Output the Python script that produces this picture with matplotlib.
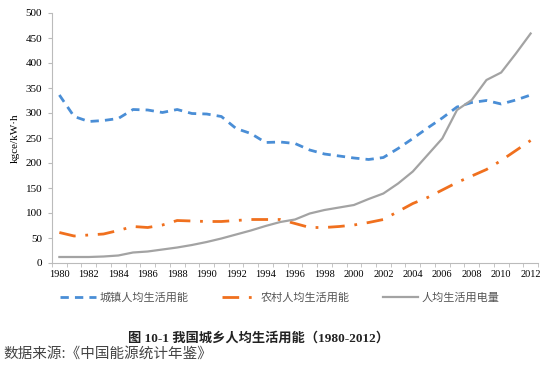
import numpy as np
import matplotlib
matplotlib.use("Agg")
import matplotlib.pyplot as plt
from matplotlib.ticker import FixedLocator

plt.rcParams['font.family'] = ['Liberation Serif', 'Noto Sans CJK SC']

years = list(range(1980, 2013))
urban = [336, 293, 283, 285, 289, 307, 306, 301, 307, 299, 298, 293, 269, 259, 241,
         242, 239, 226, 218, 214, 210, 207, 211, 229, 249, 270, 290, 312, 321, 325,
         318, 326, 336]
rural = [61, 54, 56, 58, 65, 73, 71, 76, 85, 84, 83, 83, 85, 87, 87,
         87, 79, 71, 71, 73, 76, 81, 87, 103, 119, 131, 146, 161, 174, 187,
         205, 225, 245]
electricity = [12, 12, 12, 13, 15, 21, 23, 27, 31, 36, 42, 49, 57, 65, 74,
               82, 87, 99, 106, 111, 116, 128, 139, 159, 183, 216, 249, 306, 326, 366,
               381, 419, 459]
labels = ['城镇人均生活用能', '农村人均生活用能', '人均生活用电量']
y_label = 'kgce/kW·h'
title = '图 10-1 我国城乡人均生活用能（1980-2012）'
source = '数据来源:《中国能源统计年鉴》'

fig = plt.figure(figsize=(5.6, 3.75), dpi=100)
ax = fig.add_axes([52 / 560, 1 - 263 / 375, 486 / 560, 250 / 375])

x = np.arange(len(years))
ax.plot(x, urban, color='#4a8ed6', lw=2, linestyle=(0, (3, 2.2)), label=labels[0])
ax.plot(x, rural, color='#f0701e', lw=2, linestyle=(0, (6, 3.5, 1, 3.5)), label=labels[1])
ax.plot(x, electricity, color='#a3a3a3', lw=1.6, label=labels[2])

ax.set_xlim(-0.5, len(years) - 0.5)
ax.set_ylim(0, 500)
ax.set_yticks(range(0, 501, 50))
ax.set_xticks(x[::2])
ax.set_xticklabels([str(y) for y in years[::2]], fontsize=7.5)
ax.xaxis.set_minor_locator(FixedLocator(np.arange(-0.5, len(years), 1)))
ax.tick_params(axis='x', which='major', length=0, pad=5)
ax.tick_params(axis='x', which='minor', length=3, color='#bbbbbb')
ax.tick_params(axis='y', length=3, color='#bbbbbb', labelsize=8, pad=4)
for s in ['top', 'right']:
    ax.spines[s].set_visible(False)
for s in ['left', 'bottom']:
    ax.spines[s].set_color('#bbbbbb')
    ax.spines[s].set_linewidth(0.8)
ax.set_ylabel(y_label, fontsize=8, labelpad=4)

fig.legend(loc='center', bbox_to_anchor=(0.5, 1 - 298 / 375), ncol=3, frameon=False,
           prop={'family': 'Noto Sans CJK SC', 'size': 8}, labelcolor='#555555',
           handlelength=3.2, columnspacing=3, handletextpad=0.3)
fig.text(258 / 560, 1 - 338 / 375, title, ha='center', va='center', fontsize=9.5,
         fontweight='bold', family=['Liberation Serif', 'Noto Sans CJK SC'], color='#222222')
fig.text(3 / 560, 1 - 354 / 375, source, ha='left', va='center', fontsize=10.5,
         family=['Noto Sans CJK SC'], color='#444444')

fig.savefig('out.png', dpi=100)
